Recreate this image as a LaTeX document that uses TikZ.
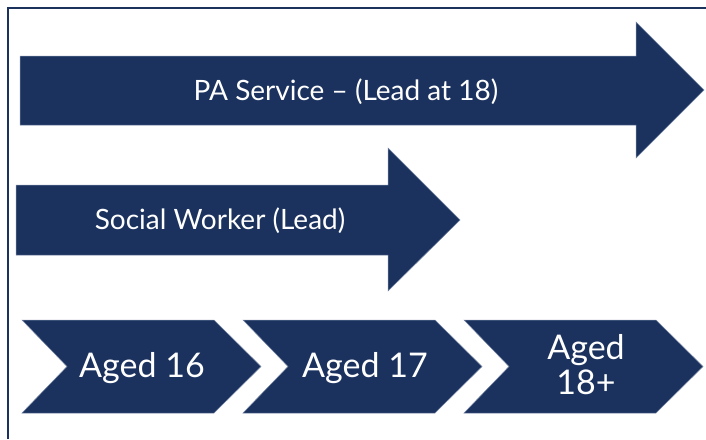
\documentclass[tikz,border=0pt]{standalone}
\usepackage{fontspec}
\setmainfont{Lato}
\definecolor{navy}{RGB}{27,50,94}
\definecolor{rim}{RGB}{120,135,165}
\begin{document}
\begin{tikzpicture}[x=1pt,y=-1pt,
  shp/.style={fill=navy, draw=rim, line width=0.5pt},
  lbl/.style={text=white, inner sep=0pt, align=center},
  bigtxt/.style={lbl, font=\fontsize{28}{32}\selectfont},
  agetxt/.style={lbl, font=\fontsize{34}{35}\selectfont}]
\useasboundingbox (0,0) rectangle (706,439);
% frame
\draw[navy, line width=2pt] (8,439) -- (8,8) -- (706,8);
% PA service arrow
\path[shp] (20,56) -- (636,56) -- (636,22) -- (704,90) -- (636,158) -- (636,125) -- (20,125) -- cycle;
\node[bigtxt] (pa) at (346,92) {PA Service – (Lead at 18)};
% Social worker arrow
\path[shp] (16,185) -- (388,185) -- (388,148) -- (460,220) -- (388,291) -- (388,255) -- (16,255) -- cycle;
\node[bigtxt] (sw) at (220,221) {Social Worker (Lead)};
% chevrons
\foreach \x/\n in {22/a, 243/b, 464/c}{
  \path[shp] (\x,320) -- (\x+192,320) -- (\x+239,366.5) -- (\x+192,413) -- (\x,413) -- (\x+45,366.5) -- cycle;
}
\node[agetxt] (a16) at (142,368) {Aged 16};
\node[agetxt] (a17) at (365,368) {Aged 17};
\node[agetxt] (a18) at (586,365) {Aged\\18+};
\end{tikzpicture}
\end{document}
